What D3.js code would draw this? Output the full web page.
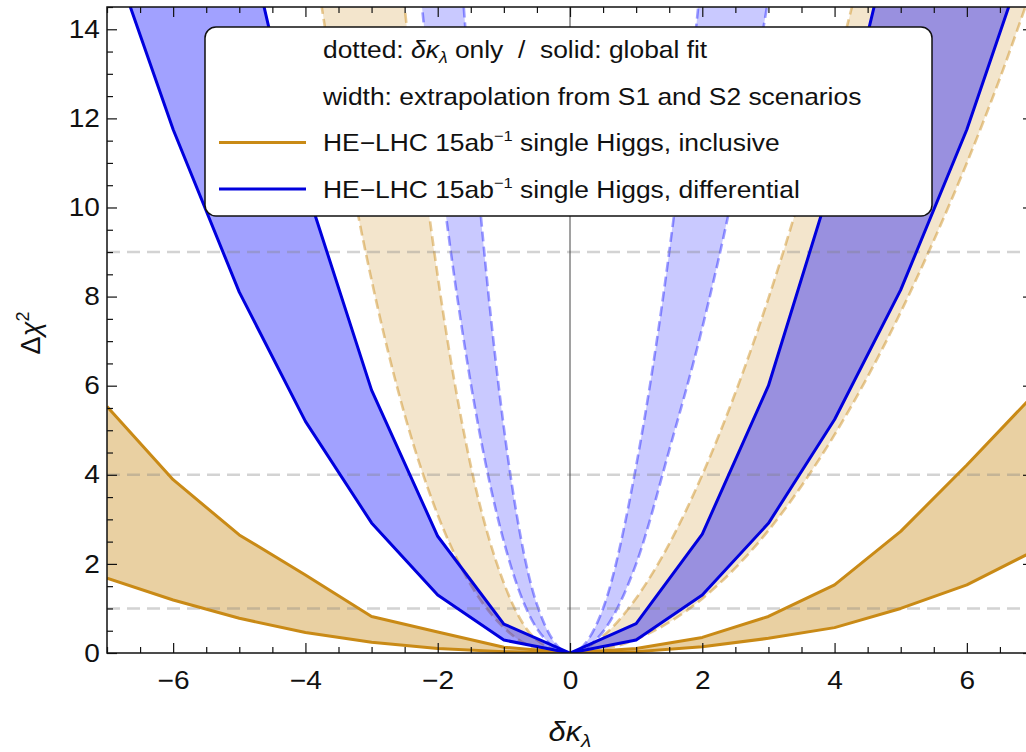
<!DOCTYPE html>
<html>
<head>
<meta charset="utf-8">
<script src="https://cdn.jsdelivr.net/npm/d3@7"></script>
<style>
  body { margin: 0; background: #fff; }
  svg { display: block; font-family: 'Liberation Sans', Arial, sans-serif; }
</style>
</head>
<body>
<svg id="chart" width="1026" height="752"></svg>
<script>
// solid curves: global fit, read at integer steps of dk_lambda
const fitX = [-7, -6, -5, -4, -3, -2, -1, 0, 1, 2, 3, 4, 5, 6, 7]
const inclFitLo = [1.68, 1.19, 0.78, 0.46, 0.24, 0.10, 0.03, 0, 0.03, 0.14, 0.33, 0.57, 1.0, 1.53, 2.28]
const inclFitHi = [5.53, 3.89, 2.65, 1.75, 0.82, 0.47, 0.13, 0, 0.10, 0.35, 0.82, 1.53, 2.73, 4.22, 5.78]
const diffFitLo = [16.0, 11.75, 8.1, 5.2, 2.92, 1.3, 0.29, 0, 0.29, 1.3, 2.91, 5.24, 8.15, 11.75, 16.1]
const diffFitHi = [33.0, 24.5, 16.9, 10.5, 5.9, 2.62, 0.65, 0, 0.66, 2.67, 6.0, 10.8, 17.0, 24.8, 33.5]

// dashed curves: dk_lambda only
const inclOnlyX = [-4, -3.5, -3, -2.5, -2, -1.5, -1, -0.5, 0, 0.5, 1, 1.5, 2, 2.5, 3, 3.5, 4, 4.5, 5, 5.5, 6, 6.5, 7]
const inclOnlyLo = [16.9, 12.2, 8.37, 5.35, 3.1, 1.53, 0.57, 0.1, 0, 0.08, 0.31, 0.69, 1.22, 1.91, 2.75, 3.75, 4.9, 6.2, 7.65, 9.26, 11.0, 12.9, 15.0]
const inclOnlyHi = [45.6, 32.9, 22.6, 14.5, 8.46, 4.2, 1.57, 0.29, 0, 0.38, 1.23, 2.45, 4.0, 5.84, 7.96, 10.35, 13.0, 15.9, 18.9, 22.3, 25.8, 29.6, 33.6]
const diffOnlyX = [-2.5, -2, -1.5, -1, -0.5, 0, 0.5, 1, 1.5, 2, 2.5, 3, 3.5]
const diffOnlyLo = [18.4, 11.3, 6.05, 2.5, 0.55, 0, 0.48, 2.0, 4.55, 7.3, 10.6, 14.7, 19.5]
const diffOnlyHi = [38.7, 23.6, 12.45, 5.06, 1.09, 0, 1.0, 4.2, 9.0, 15.4, 24, 34, 46]

const refLevels = [1, 4, 9]
const xTicks = [-6, -4, -2, 0, 2, 4, 6]
const yTicks = [0, 2, 4, 6, 8, 10, 12, 14]
const legendNames = ['single Higgs, inclusive', 'single Higgs, differential']

const gold = '#c98a16'
const blue = '#0000dd'

const svg = d3.select('#chart')
const x = d3.scaleLinear().domain([-7, 7]).range([107, 1033])
const y = d3.scaleLinear().domain([0, 14.5]).range([653, 7])

svg.append('defs').append('clipPath')
    .attr('id', 'plot-clip')
  .append('rect')
    .attr('x', x(-7)).attr('y', y(14.5))
    .attr('width', x(7) - x(-7)).attr('height', y(0) - y(14.5))

let plot = svg.append('g').attr('clip-path', 'url(#plot-clip)')

function rows (xs, lo, hi) {
  return xs.map((d, i) => ({ x: d, lo: lo[i], hi: hi[i] }))
}

function drawBand (data, curve, fill, opacity) {
  let area = d3.area()
      .x(d => x(d.x))
      .y0(d => y(d.lo))
      .y1(d => y(d.hi))
      .curve(curve)
  plot.append('path')
    .datum(data)
    .attr('d', area)
    .attr('fill', fill)
    .attr('fill-opacity', opacity)
}

function drawEdges (data, curve, stroke, opacity, dash) {
  ['lo', 'hi'].forEach(k => {
    let line = d3.line().x(d => x(d.x)).y(d => y(d[k])).curve(curve)
    plot.append('path')
      .datum(data)
      .attr('d', line)
      .attr('fill', 'none')
      .attr('stroke', stroke)
      .attr('stroke-opacity', opacity)
      .attr('stroke-width', dash ? 2.6 : 3)
      .attr('stroke-linejoin', 'round')
      .attr('stroke-dasharray', dash)
  })
}

let inclOnly = rows(inclOnlyX, inclOnlyLo, inclOnlyHi)
let diffOnly = rows(diffOnlyX, diffOnlyLo, diffOnlyHi)
let inclFit = rows(fitX, inclFitLo, inclFitHi)
let diffFit = rows(fitX, diffFitLo, diffFitHi)

// dashed bands (dk_lambda only)
drawBand(inclOnly, d3.curveMonotoneX, gold, 0.22)
drawEdges(inclOnly, d3.curveMonotoneX, gold, 0.45, '10,5')
drawBand(diffOnly, d3.curveMonotoneX, '#0000ff', 0.21)
drawEdges(diffOnly, d3.curveMonotoneX, '#0000ff', 0.38, '10,5')

// solid bands (global fit)
drawBand(inclFit, d3.curveLinear, gold, 0.4)
drawBand(diffFit, d3.curveLinear, '#0000ff', 0.37)

// reference levels
plot.selectAll('.ref')
  .data(refLevels)
  .enter().append('line')
    .attr('class', 'ref')
    .attr('x1', x(-7)).attr('x2', x(7))
    .attr('y1', d => y(d)).attr('y2', d => y(d))
    .attr('stroke', '#808080')
    .attr('stroke-opacity', 0.35)
    .attr('stroke-width', 2.5)
    .attr('stroke-dasharray', '13,7')

drawEdges(inclFit, d3.curveLinear, gold, 1, null)
drawEdges(diffFit, d3.curveLinear, blue, 1, null)

plot.append('line')
  .attr('x1', x(0)).attr('x2', x(0))
  .attr('y1', y(0)).attr('y2', y(14.5))
  .attr('stroke', '#444')
  .attr('stroke-width', 1)

// frame ticks
let xMinor = d3.range(-7, 7.01, 0.5).filter(d => xTicks.indexOf(d) < 0)
let yMinor = d3.range(0, 14.51, 0.5).filter(d => yTicks.indexOf(d) < 0)

function tickGroup (axis, transform) {
  let g = svg.append('g').attr('transform', transform).call(axis)
  g.select('.domain').remove()
  g.selectAll('line').attr('stroke', '#111').attr('stroke-width', 1.2)
  return g
}

let bottom = tickGroup(d3.axisBottom(x).tickValues(xTicks).tickSize(-10).tickPadding(18), `translate(0,${y(0)})`)
tickGroup(d3.axisBottom(x).tickValues(xMinor).tickSize(-6).tickFormat(''), `translate(0,${y(0)})`)
tickGroup(d3.axisTop(x).tickValues(xTicks).tickSize(-10).tickFormat(''), `translate(0,${y(14.5)})`)
tickGroup(d3.axisTop(x).tickValues(xMinor).tickSize(-6).tickFormat(''), `translate(0,${y(14.5)})`)
let left = tickGroup(d3.axisLeft(y).tickValues(yTicks).tickSize(-10).tickPadding(6.5), `translate(${x(-7)},0)`)
tickGroup(d3.axisLeft(y).tickValues(yMinor).tickSize(-6).tickFormat(''), `translate(${x(-7)},0)`)
tickGroup(d3.axisRight(y).tickValues(yTicks).tickSize(-10).tickFormat(''), `translate(${x(7)},0)`)
tickGroup(d3.axisRight(y).tickValues(yMinor).tickSize(-6).tickFormat(''), `translate(${x(7)},0)`)

;[bottom, left].forEach(g => {
  g.attr('font-size', null).attr('font-family', null)
  g.selectAll('text')
    .attr('font-size', 25.5)
    .attr('fill', '#111')
    .attr('transform', 'scale(1.1,1)')
})

svg.append('rect')
  .attr('x', x(-7)).attr('y', y(14.5))
  .attr('width', x(7) - x(-7)).attr('height', y(0) - y(14.5))
  .attr('fill', 'none')
  .attr('stroke', '#111')
  .attr('stroke-width', 1.5)

// axis titles
let yTitle = svg.append('text')
    .attr('transform', 'translate(40,333) rotate(-90)')
    .attr('text-anchor', 'middle')
    .attr('font-size', 27)
    .attr('fill', '#111')
yTitle.append('tspan').text('Δ')
yTitle.append('tspan').attr('font-style', 'italic').text('χ')
yTitle.append('tspan').attr('font-size', 18).attr('dy', -11).text('2')

let xTitle = svg.append('text')
    .attr('transform', 'translate(570,741) scale(1.1,1)')
    .attr('text-anchor', 'middle')
    .attr('font-size', 28)
    .attr('font-style', 'italic')
    .attr('fill', '#111')
xTitle.append('tspan').text('δκ')
xTitle.append('tspan').attr('font-size', 19).attr('dy', 6).text('λ')

// legend
let legend = svg.append('g')
legend.append('rect')
  .attr('x', 205).attr('y', 27)
  .attr('width', 727).attr('height', 189)
  .attr('rx', 11)
  .attr('fill', '#fff')
  .attr('stroke', '#111')
  .attr('stroke-width', 1.5)

function legendText (cy) {
  return legend.append('text')
    .attr('transform', `translate(323,${cy + 8.5}) scale(1.1,1)`)
    .attr('font-size', 24)
    .attr('fill', '#111')
    .style('white-space', 'pre')
}

let note1 = legendText(49.5)
note1.append('tspan').text('dotted: ')
note1.append('tspan').attr('font-style', 'italic').text('δκ')
note1.append('tspan').attr('font-style', 'italic').attr('font-size', 16).attr('dy', 5).text('λ')
note1.append('tspan').attr('dy', -5).text(' only  /  solid: global fit')

legendText(96).text('width: extrapolation from S1 and S2 scenarios')

;[gold, blue].forEach((c, i) => {
  let cy = 142.5 + i * 46.5
  legend.append('line')
    .attr('x1', 219).attr('x2', 306)
    .attr('y1', cy).attr('y2', cy)
    .attr('stroke', c)
    .attr('stroke-width', 3)
  let t = legendText(cy)
  t.append('tspan').text('HE−LHC 15ab')
  t.append('tspan').attr('font-size', 15).attr('dy', -10).text('−1')
  t.append('tspan').attr('dy', 10).text(' ' + legendNames[i])
})
</script>
</body>
</html>
